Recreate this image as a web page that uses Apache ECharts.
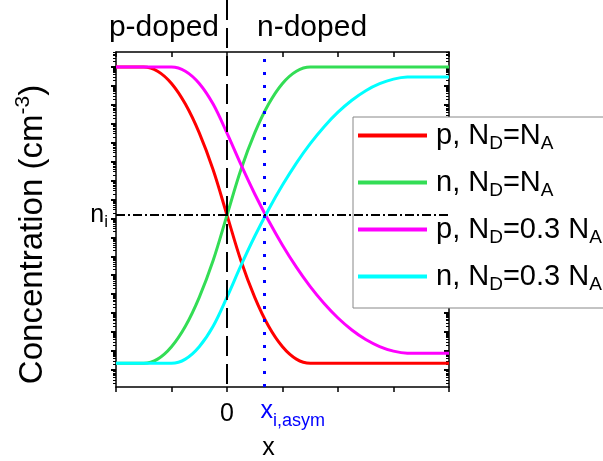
<!DOCTYPE html>
<html>
<head>
<meta charset="utf-8">
<script src="https://cdn.jsdelivr.net/npm/echarts@6/dist/echarts.min.js"></script>
<style>
  html, body { margin: 0; padding: 0; background: #fff; }
  #chart { width: 603px; height: 461px; }
</style>
</head>
<body>
<div id="chart"></div>
<script>
const FONT = '"Liberation Sans", Arial, sans-serif';

// Position across the p-n junction (arbitrary units, metallurgical junction at 0)
const positions = [-2, -1.75, -1.5, -1.25, -1, -0.75, -0.5, -0.25, 0, 0.25, 0.5, 0.75,
                   1, 1.25, 1.5, 1.75, 2, 2.25, 2.5, 2.75, 3, 3.25, 3.5, 3.75, 4];

// Carrier concentrations (cm^-3)
const pSym  = [1e18, 1e18, 1e18, 6.0e17, 1.35e17, 1.1e16, 3.3e14, 3.7e12, 1.5e10, 6.0e7, 6.8e5, 2.0e4,
               1.66e3, 3.7e2, 2.25e2, 2.25e2, 2.25e2, 2.25e2, 2.25e2, 2.25e2, 2.25e2, 2.25e2, 2.25e2, 2.25e2, 2.25e2];
const nSym  = [2.25e2, 2.25e2, 2.25e2, 3.7e2, 1.66e3, 2.0e4, 6.8e5, 6.0e7, 1.5e10, 3.7e12, 3.3e14, 1.1e16,
               1.35e17, 6.0e17, 1e18, 1e18, 1e18, 1e18, 1e18, 1e18, 1e18, 1e18, 1e18, 1e18, 1e18];
const pAsym = [1e18, 1e18, 1e18, 1e18, 1e18, 6.0e17, 1.35e17, 1.1e16, 3.2e14, 7.1e12, 1.95e11, 7.5e9,
               3.85e8, 2.67e7, 2.5e6, 3.2e5, 5.5e4, 1.28e4, 4.0e3, 1.71e3, 9.8e2, 7.6e2, 7.5e2, 7.5e2, 7.5e2];
const nAsym = [2.25e2, 2.25e2, 2.25e2, 2.25e2, 2.25e2, 3.7e2, 1.66e3, 2.0e4, 6.9e5, 3.2e7, 1.15e9, 3.0e10,
               5.8e11, 8.4e12, 8.9e13, 7.0e14, 4.1e15, 1.75e16, 5.6e16, 1.31e17, 2.29e17, 2.94e17, 3.0e17, 3.0e17, 3.0e17];

const seriesNames  = ['p, N_D=N_A', 'n, N_D=N_A', 'p, N_D=0.3 N_A', 'n, N_D=0.3 N_A'];
const seriesData   = [pSym, nSym, pAsym, nAsym];
const seriesColors = ['#ff0000', '#33dd55', '#ff00ff', '#00ffff'];

const intrinsic = 1.5e10;   // n_i
const junction = 0;         // x = 0
const xiAsym = 0.68;        // x_i,asym
const xRange = [-2, 4];
const yRange = [12.5, 6.2e18];
const xTickLabels = ['0'];
const regionLabels = ['p-doped', 'n-doped'];

// "a_b" -> rich text with subscripts
function richSub(text) {
  return text.split(/(_\w)/).filter(s => s.length).map(s =>
    s[0] === '_' ? '{s|' + s.slice(1) + '}' : '{m|' + s + '}').join('');
}

// Decade and sub-decade tick positions, expressed as log10 of concentration
const logMin = Math.log10(yRange[0]), logMax = Math.log10(yRange[1]);
const majorExp = [], minorExp = [];
for (let d = Math.floor(logMin); d <= Math.ceil(logMax); d++) {
  if (d >= logMin && d <= logMax) majorExp.push(d);
  for (let k = 2; k <= 9; k++) {
    const v = d + Math.log10(k);
    if (v >= logMin && v <= logMax) minorExp.push(v);
  }
}
function tickAxis(position, values, len, width, inside) {
  return {
    type: 'value', position, min: logMin, max: logMax,
    axisLine: { show: false, onZero: false }, splitLine: { show: false },
    axisLabel: { show: false },
    axisTick: { show: true, inside, length: len, customValues: values,
                lineStyle: { color: '#000', width } }
  };
}

const chart = echarts.init(document.getElementById('chart'), null, { renderer: 'canvas' });

const series = seriesNames.map((name, i) => ({
  name, type: 'line', xAxisIndex: 0, yAxisIndex: 0,
  data: positions.map((x, j) => [x, seriesData[i][j]]),
  showSymbol: false, smooth: 0.35, z: 3,
  lineStyle: { color: seriesColors[i], width: 3 },
  itemStyle: { color: seriesColors[i] }
}));

// reference lines: x_i,asym and n_i
series[0].markLine = {
  silent: true, symbol: 'none', animation: false,
  data: [
    { xAxis: xiAsym, lineStyle: { color: '#0000ff', width: 3, type: [3, 10] },
      label: { show: true, position: 'start', distance: 5, formatter: '{g|}{b|x}{s|i,asym}',
               rich: {
                 g: { width: 56 },
                 b: { fontSize: 25, fontFamily: FONT, color: '#0000ff' },
                 s: { fontSize: 18, fontFamily: FONT, color: '#0000ff', padding: [20, 0, 0, 0] }
               } } },
    { yAxis: intrinsic, lineStyle: { color: '#000', width: 2, type: [9, 3, 2, 3] },
      label: { show: true, position: 'start', distance: 8, formatter: '{m|n}{s|i}',
               rich: { m: { fontSize: 25, fontFamily: FONT, color: '#000' },
                       s: { fontSize: 17, fontFamily: FONT, color: '#000', padding: [14, 0, 0, 0] } } } }
  ]
};

const option = {
  animation: false,
  backgroundColor: '#fff',
  grid: { left: 116, right: 154, top: 52, bottom: 74, containLabel: false, outerBoundsMode: 'none' },
  legend: {
    orient: 'vertical', left: 353, top: 117,
    padding: [4, 12, 14, 5], itemGap: 15,
    backgroundColor: '#fff', borderColor: '#888', borderWidth: 1, borderRadius: 0,
    icon: 'rect', itemWidth: 69, itemHeight: 4,
    data: seriesNames,
    formatter: name => richSub(name),
    textStyle: {
      color: '#000', fontFamily: FONT, fontSize: 29, padding: [0, 0, 0, 4],
      rich: {
        m: { fontSize: 29, fontFamily: FONT, color: '#000' },
        s: { fontSize: 19, fontFamily: FONT, color: '#000', padding: [16, 0, 0, 0] }
      }
    }
  },
  xAxis: [
    {
      type: 'value', position: 'bottom', min: xRange[0], max: xRange[1], interval: 1,
      name: 'x', nameLocation: 'middle', nameGap: 49,
      nameTextStyle: { fontSize: 25, fontFamily: FONT, color: '#000', padding: [0, 28, 0, 0] },
      axisLine: { show: true, onZero: false, lineStyle: { color: '#000', width: 1.5 } },
      axisTick: { show: true, inside: false, length: 5, lineStyle: { color: '#000', width: 1.5 } },
      splitLine: { show: false },
      axisLabel: {
        show: true, margin: 15, customValues: [junction],
        formatter: () => xTickLabels[0],
        fontSize: 25, fontFamily: FONT, color: '#000'
      }
    },
    {
      type: 'value', position: 'top', min: xRange[0], max: xRange[1], interval: 1,
      axisLine: { show: true, onZero: false, lineStyle: { color: '#000', width: 1.5 } },
      axisTick: { show: true, inside: true, length: 5, lineStyle: { color: '#000', width: 1.5 } },
      axisLabel: { show: false }, splitLine: { show: false }
    }
  ],
  yAxis: [
    {
      type: 'log', position: 'left', min: yRange[0], max: yRange[1],
      name: 'Concentration (cm{sup|-3})', nameLocation: 'middle', nameRotate: 90, nameGap: 64,
      nameTextStyle: {
        fontSize: 33, fontFamily: FONT, color: '#000', padding: [0, 30, 0, 0],
        rich: { sup: { fontSize: 21, fontFamily: FONT, color: '#000', padding: [0, 0, 18, 0] } }
      },
      axisLine: { show: true, onZero: false, lineStyle: { color: '#000', width: 1.5 } },
      axisTick: { show: false }, axisLabel: { show: false }, splitLine: { show: false }
    },
    tickAxis('left', majorExp, 5, 2, false),
    tickAxis('left', minorExp, 3, 1, false),
    Object.assign(tickAxis('right', majorExp, 5, 2, true),
                  { axisLine: { show: true, onZero: false, lineStyle: { color: '#000', width: 1.5 } } }),
    tickAxis('right', minorExp, 3, 1, true)
  ],
  series
};

chart.setOption(option);

// junction line (runs up through the header) and region captions
const jx = chart.convertToPixel({ xAxisIndex: 0 }, junction);
const yb = chart.convertToPixel({ yAxisIndex: 0 }, yRange[0]);
chart.setOption({
  graphic: [
    { type: 'line', z: 5, silent: true,
      shape: { x1: jx, y1: 0, x2: jx, y2: yb },
      style: { stroke: '#000', lineWidth: 2, lineDash: [20, 8] } },
    { type: 'text', silent: true, x: jx - 8, y: 28,
      style: { text: regionLabels[0], font: '30px ' + FONT, fill: '#000', textAlign: 'right', textVerticalAlign: 'middle' } },
    { type: 'text', silent: true, x: jx + 30, y: 28,
      style: { text: regionLabels[1], font: '30px ' + FONT, fill: '#000', textAlign: 'left', textVerticalAlign: 'middle' } }
  ]
});
</script>
</body>
</html>
